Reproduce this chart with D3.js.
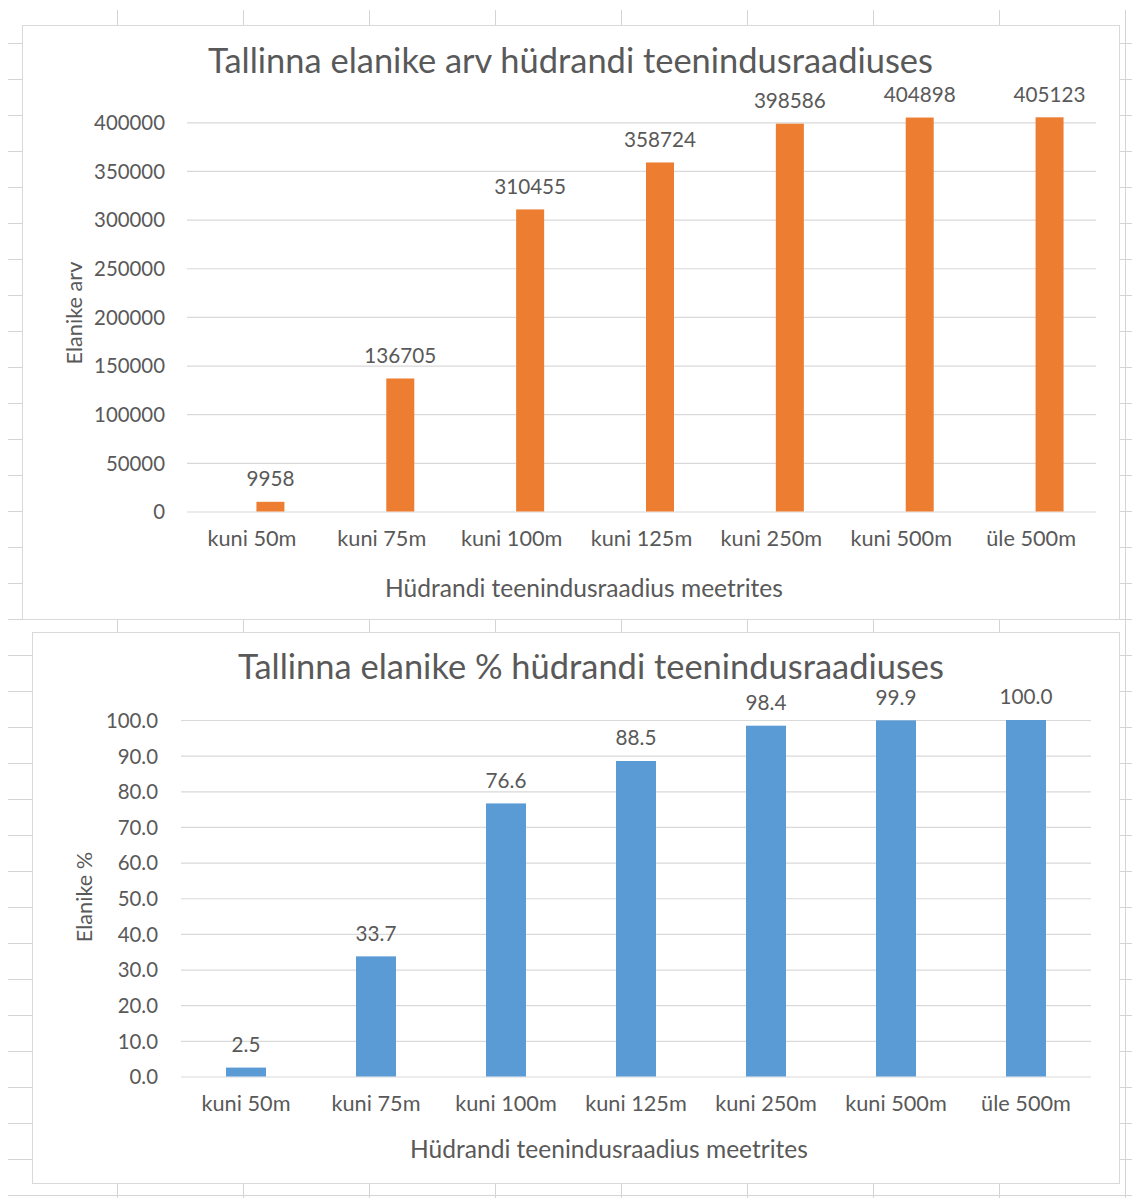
<!DOCTYPE html>
<html>
<head>
<meta charset="utf-8">
<script src="https://cdn.jsdelivr.net/npm/d3@7/dist/d3.min.js"></script>
<style>
  html, body { margin: 0; padding: 0; background: #ffffff; }
  svg { display: block; }
</style>
</head>
<body>
<svg id="chart" width="1132" height="1198"></svg>
<script>
// ---------------- data ----------------
const categories = ["kuni 50m", "kuni 75m", "kuni 100m", "kuni 125m", "kuni 250m", "kuni 500m", "üle 500m"];
const residents = [9958, 136705, 310455, 358724, 398586, 404898, 405123];
const residentsPct = [2.5, 33.7, 76.6, 88.5, 98.4, 99.9, 100.0];
const residentTicks = [0, 50000, 100000, 150000, 200000, 250000, 300000, 350000, 400000];
const pctTicks = [0, 10, 20, 30, 40, 50, 60, 70, 80, 90, 100];
const title1 = "Tallinna elanike arv hüdrandi teenindusraadiuses";
const title2 = "Tallinna elanike % hüdrandi teenindusraadiuses";
const yTitle1 = "Elanike arv";
const yTitle2 = "Elanike %";
const xTitle = "Hüdrandi teenindusraadius meetrites";

// ---------------- setup ----------------
const W = 1132, H = 1198;
const FONT = "Lato, 'Open Sans', sans-serif";
const TEXT = "#595959";
const svg = d3.select("#chart");

function sizeFor(str, targetW) {
  const t = svg.append("text").attr("font-family", FONT).attr("font-size", 20).text(str);
  const w = t.node().getComputedTextLength();
  t.remove();
  return 20 * targetW / w;
}

// spreadsheet background grid
const bg = svg.append("g").attr("stroke", "#d4d4d4").attr("stroke-width", 1);
d3.range(117, W, 126).forEach(x => {
  bg.append("line").attr("x1", x + 0.5).attr("x2", x + 0.5).attr("y1", 10).attr("y2", H);
});
d3.range(43, H, 36).forEach(y => {
  bg.append("line").attr("x1", 8).attr("x2", W).attr("y1", y + 0.5).attr("y2", y + 0.5);
});

const fsTick = sizeFor("400000", 71);
const fsCat = sizeFor("kuni 50m", 89);
const fsVal = sizeFor("398586", 72);
const fsTitle = sizeFor(title1, 725);
const fsXTitle = sizeFor(xTitle, 398);
const fsYTitle = sizeFor(yTitle1, 103);

function drawChart(cfg) {
  const g = svg.append("g");
  // frame
  g.append("rect")
    .attr("x", cfg.frame[0]).attr("y", cfg.frame[1])
    .attr("width", cfg.frame[2]).attr("height", cfg.frame[3])
    .attr("fill", "#ffffff").attr("stroke", "#d9d9d9").attr("stroke-width", 1);

  const x = d3.scaleBand().domain(categories).range(cfg.plotX).paddingInner(0).paddingOuter(0);
  const y = d3.scaleLinear().domain([0, cfg.max]).range([cfg.y0, cfg.yTop]);

  // gridlines
  const grid = d3.axisLeft(y).tickValues(cfg.ticks).tickSize(-(cfg.plotX[1] - cfg.plotX[0])).tickFormat("");
  g.append("g").attr("transform", `translate(${cfg.plotX[0]},0)`).call(grid)
    .call(s => s.select(".domain").remove())
    .call(s => s.selectAll("line").attr("stroke", "#d9d9d9").attr("stroke-width", 1.2));

  // y tick labels
  const yAxis = d3.axisLeft(y).tickValues(cfg.ticks).tickSize(0).tickPadding(0).tickFormat(cfg.tickFmt);
  g.append("g").attr("transform", `translate(${cfg.tickRight},0)`).call(yAxis)
    .call(s => s.select(".domain").remove())
    .call(s => s.selectAll("text").attr("font-family", FONT).attr("font-size", fsTick)
      .attr("fill", TEXT).attr("dy", "0.36em"));

  // x category labels
  const xAxis = d3.axisBottom(x).tickSize(0).tickPadding(0);
  g.append("g").attr("transform", `translate(0,${cfg.y0 + 34})`).call(xAxis)
    .call(s => s.select(".domain").remove())
    .call(s => s.selectAll("text").attr("font-family", FONT).attr("font-size", fsCat)
      .attr("fill", TEXT).attr("dy", 0).attr("y", 0));

  // bars
  const bw = cfg.barW;
  g.append("g").selectAll("rect").data(cfg.values).join("rect")
    .attr("x", (d, i) => x(categories[i]) + x.bandwidth() / 2 + cfg.barOffset - bw / 2)
    .attr("y", d => y(d))
    .attr("width", bw)
    .attr("height", d => y(0) - y(d))
    .attr("fill", cfg.color);

  // value labels
  g.append("g").selectAll("text").data(cfg.values).join("text")
    .attr("x", (d, i) => x(categories[i]) + x.bandwidth() / 2 + cfg.barOffset)
    .attr("y", d => y(d) - 23)
    .attr("dy", "0.36em")
    .attr("text-anchor", "middle")
    .attr("font-family", FONT).attr("font-size", fsVal).attr("fill", TEXT)
    .text(cfg.valFmt);

  // title
  g.append("text").attr("x", cfg.titlePos[0]).attr("y", cfg.titlePos[1])
    .attr("text-anchor", "middle").attr("font-family", FONT).attr("font-size", fsTitle)
    .attr("fill", TEXT).text(cfg.title);

  // x title
  g.append("text").attr("x", cfg.xTitlePos[0]).attr("y", cfg.xTitlePos[1])
    .attr("text-anchor", "middle").attr("font-family", FONT).attr("font-size", fsXTitle)
    .attr("fill", TEXT).text(xTitle);

  // y title
  g.append("text")
    .attr("transform", `translate(${cfg.yTitlePos[0]},${cfg.yTitlePos[1]}) rotate(-90)`)
    .attr("text-anchor", "middle").attr("font-family", FONT).attr("font-size", fsYTitle)
    .attr("fill", TEXT).text(cfg.yTitle);
}

drawChart({
  frame: [22.5, 25.5, 1097, 594],
  plotX: [187, 1096],
  y0: 511.5, yTop: 122.3, max: 400000,
  ticks: residentTicks,
  tickFmt: d3.format("d"),
  tickRight: 165,
  values: residents,
  valFmt: d3.format("d"),
  barW: 28, barOffset: 18.5,
  color: "#ED7D31",
  title: title1, titlePos: [570.5, 73],
  xTitlePos: [584, 597],
  yTitle: yTitle1, yTitlePos: [82, 313]
});

drawChart({
  frame: [32.5, 632.5, 1087, 551],
  plotX: [181, 1091],
  y0: 1076.5, yTop: 720, max: 100,
  ticks: pctTicks,
  tickFmt: d3.format(".1f"),
  tickRight: 158,
  values: residentsPct,
  valFmt: d3.format(".1f"),
  barW: 40, barOffset: 0,
  color: "#5B9BD5",
  title: title2, titlePos: [591, 679],
  xTitlePos: [609, 1158],
  yTitle: yTitle2, yTitlePos: [92, 897]
});
</script>
</body>
</html>
